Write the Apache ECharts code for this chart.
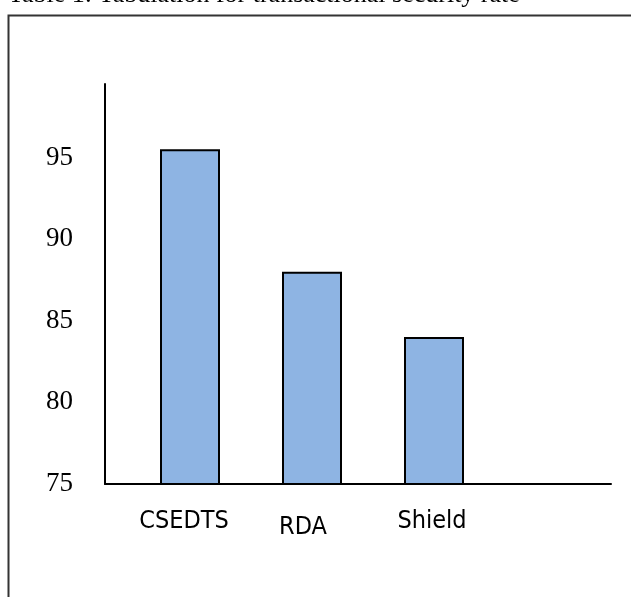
<!DOCTYPE html>
<html>
<head>
<meta charset="utf-8">
<style>
  html, body { margin: 0; padding: 0; background: #fff; }
  #chart { width: 631px; height: 597px; }
</style>
<script src="https://cdn.jsdelivr.net/npm/echarts@6/dist/echarts.min.js"></script>
</head>
<body>
<div id="chart"></div>
<script>
//======================================================================================================================
// Transactional security rate
//======================================================================================================================

var categories = ['CSEDTS', 'RDA', 'Shield'];
var rates = [95.5, 88, 84];
var yMin = 75;
var yMax = 99.5;
var yStep = 5;

// small hand-drawn offsets of the category labels
var labelPads = [[0, 12, 0, 0], [6, 18, 0, 0], [0, 4, 0, 0]];

var chart = echarts.init(document.getElementById('chart'));

chart.setOption({
    backgroundColor: '#fff',
    animation: false,
    title: {
        text: 'Table 1: Tabulation for transactional security rate',
        left: 8,
        top: -18,
        padding: 0,
        textStyle: { fontFamily: 'Liberation Serif', fontSize: 26, fontWeight: 'normal', color: '#000' }
    },
    graphic: [{
        type: 'rect',
        left: 6,
        top: 13,
        shape: { width: 700, height: 700 },
        style: { fill: 'none', stroke: '#333', lineWidth: 2 }
    }],
    grid: [
        { left: 129, top: 84, width: 366, height: 400 },
        { left: 105, top: 84, right: 20, height: 400 }
    ],
    xAxis: [{
        type: 'category',
        gridIndex: 0,
        data: categories.map(function(c, i) {
            return { value: c, textStyle: { padding: labelPads[i] } };
        }),
        axisLine: { show: false },
        axisTick: { show: false },
        axisLabel: {
            interval: 0,
            margin: 25,
            fontFamily: 'Liberation Sans Narrow, DejaVu Sans Condensed, sans-serif',
            fontSize: 25,
            color: '#000'
        }
    }, {
        type: 'value',
        gridIndex: 1,
        axisLine: { show: true, lineStyle: { color: '#000', width: 2 } },
        axisTick: { show: false },
        axisLabel: { show: false },
        splitLine: { show: false }
    }],
    yAxis: [{
        type: 'value',
        gridIndex: 0,
        min: yMin,
        max: yMax,
        interval: yStep,
        offset: 24,
        axisLine: { show: true, lineStyle: { color: '#000', width: 2 } },
        axisTick: { show: false },
        splitLine: { show: false },
        axisLabel: {
            showMaxLabel: false,
            margin: 32,
            fontFamily: 'Liberation Serif',
            fontSize: 27,
            color: '#000'
        }
    }, {
        type: 'value',
        gridIndex: 1,
        show: false
    }],
    series: [{
        type: 'bar',
        xAxisIndex: 0,
        yAxisIndex: 0,
        data: rates,
        barWidth: 60,
        itemStyle: { color: '#8EB4E3', borderColor: '#000', borderWidth: 2 }
    }]
});
</script>
</body>
</html>
